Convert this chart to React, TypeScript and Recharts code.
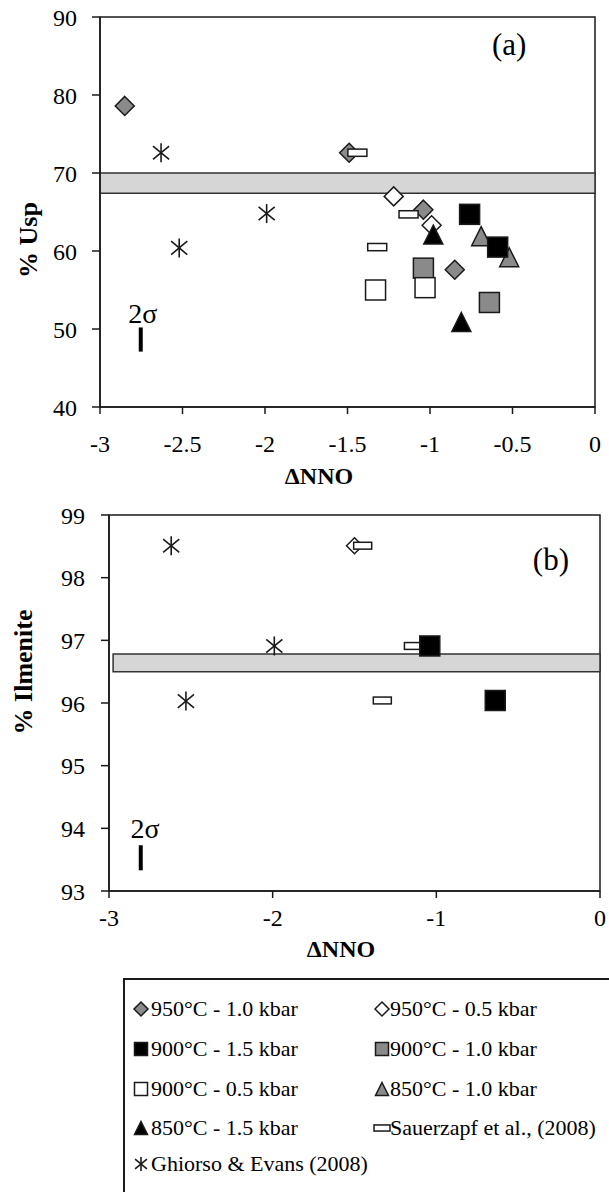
import React from "react";
import {
  Label,
  Legend,
  ReferenceArea,
  ReferenceDot,
  ReferenceLine,
  Scatter,
  ScatterChart,
  XAxis,
  YAxis,
} from "recharts";

const FONT = '"Liberation Serif", "Times New Roman", serif';
const INK = "#1a1a1a";
const GRAY = "#8a8a8a";
const BAND = "#d6d6d6";

type Pt = { x: number; y: number };

// panel (a): ΔNNO vs % Usp
const uspDiamondGray: Pt[] = [
  { x: -2.85, y: 78.6 },
  { x: -1.49, y: 72.6 },
  { x: -1.04, y: 65.3 },
  { x: -0.85, y: 57.6 },
];
const uspDiamondOpen: Pt[] = [
  { x: -1.22, y: 67.0 },
  { x: -0.99, y: 63.3 },
];
const uspSquareBlack: Pt[] = [
  { x: -0.76, y: 64.7 },
  { x: -0.59, y: 60.5 },
];
const uspSquareGray: Pt[] = [
  { x: -1.04, y: 57.8 },
  { x: -0.64, y: 53.4 },
];
const uspSquareOpen: Pt[] = [
  { x: -1.33, y: 55.0 },
  { x: -1.03, y: 55.3 },
];
const uspTriangleGray: Pt[] = [
  { x: -0.69, y: 61.9 },
  { x: -0.52, y: 59.2 },
];
const uspTriangleBlack: Pt[] = [
  { x: -0.98, y: 62.1 },
  { x: -0.81, y: 50.9 },
];
const uspSauerzapf: Pt[] = [
  { x: -1.44, y: 72.6 },
  { x: -1.13, y: 64.7 },
  { x: -1.32, y: 60.5 },
];
const uspGhiorso: Pt[] = [
  { x: -2.63, y: 72.6 },
  { x: -2.52, y: 60.4 },
  { x: -1.99, y: 64.8 },
];
const uspBand = [67.4, 70];
const uspTicksX = [-3, -2.5, -2, -1.5, -1, -0.5, 0];
const uspTicksY = [40, 50, 60, 70, 80, 90];

// panel (b): ΔNNO vs % Ilmenite
const ilmGhiorso: Pt[] = [
  { x: -2.62, y: 98.51 },
  { x: -2.53, y: 96.03 },
  { x: -1.99, y: 96.91 },
];
const ilmDiamond: Pt[] = [{ x: -1.5, y: 98.51 }];
const ilmSauerzapf: Pt[] = [
  { x: -1.45, y: 98.51 },
  { x: -1.14, y: 96.91 },
  { x: -1.33, y: 96.04 },
];
const ilmSquareBlack: Pt[] = [
  { x: -1.04, y: 96.91 },
  { x: -0.64, y: 96.04 },
];
const ilmBand = [96.5, 96.78];
const ilmTicksX = [-3, -2, -1, 0];
const ilmTicksY = [93, 94, 95, 96, 97, 98, 99];

type Kind = "diamond" | "square" | "triangle" | "bar" | "star";

function Marker({ cx, cy, kind, fill, s }: { cx: number; cy: number; kind: Kind; fill: string; s: number }) {
  const sw = 1.5;
  if (kind === "diamond") {
    return (
      <polygon
        points={`${cx},${cy - s} ${cx + s},${cy} ${cx},${cy + s} ${cx - s},${cy}`}
        fill={fill}
        stroke={INK}
        strokeWidth={sw}
      />
    );
  }
  if (kind === "square") {
    return <rect x={cx - s} y={cy - s} width={2 * s} height={2 * s} fill={fill} stroke={INK} strokeWidth={sw} />;
  }
  if (kind === "triangle") {
    return (
      <polygon
        points={`${cx},${cy - s} ${cx + s},${cy + s} ${cx - s},${cy + s}`}
        fill={fill}
        stroke={INK}
        strokeWidth={sw}
      />
    );
  }
  if (kind === "bar") {
    return (
      <rect x={cx - s} y={cy - s * 0.38} width={2 * s} height={s * 0.76} fill="#fff" stroke={INK} strokeWidth={sw} />
    );
  }
  const dx = s * 0.85;
  const dy = s * 0.7;
  return (
    <g stroke={INK} strokeWidth={1.6}>
      <line x1={cx} y1={cy - s} x2={cx} y2={cy + s} />
      <line x1={cx - dx} y1={cy - dy} x2={cx + dx} y2={cy + dy} />
      <line x1={cx - dx} y1={cy + dy} x2={cx + dx} y2={cy - dy} />
    </g>
  );
}

const dot = (kind: Kind, fill: string, s: number) => (p: any) =>
  <Marker cx={p.cx} cy={p.cy} kind={kind} fill={fill} s={s} />;

const tag = (text: string, size: number) => (p: any) => {
  const vb = p.viewBox;
  const cx = vb.x + vb.width / 2;
  const cy = vb.y + vb.height / 2;
  return (
    <text x={cx} y={cy} dy="0.35em" textAnchor="middle" fontFamily={FONT} fontSize={size} fill="#000">
      {text}
    </text>
  );
};

const axisTitle = (text: string, x: number, y: number, rotate: boolean) => () =>
  (
    <text
      x={x}
      y={y}
      textAnchor="middle"
      dominantBaseline="central"
      transform={rotate ? `rotate(-90 ${x} ${y})` : undefined}
      fontFamily={FONT}
      fontWeight="bold"
      fontSize={rotate ? 26 : 24}
      fill="#000"
    >
      {text}
    </text>
  );

const tickStyle = { fill: "#000", fontSize: 24, fontFamily: FONT };
const axisLine = { stroke: INK, strokeWidth: 1.5 };

const LEGEND_ROWS: { label: string; kind: Kind; fill: string }[][] = [
  [
    { label: "950°C - 1.0 kbar", kind: "diamond", fill: GRAY },
    { label: "950°C - 0.5 kbar", kind: "diamond", fill: "#fff" },
  ],
  [
    { label: "900°C - 1.5 kbar", kind: "square", fill: "#000" },
    { label: "900°C - 1.0 kbar", kind: "square", fill: GRAY },
  ],
  [
    { label: "900°C - 0.5 kbar", kind: "square", fill: "#fff" },
    { label: "850°C - 1.0 kbar", kind: "triangle", fill: GRAY },
  ],
  [
    { label: "850°C - 1.5 kbar", kind: "triangle", fill: "#000" },
    { label: "Sauerzapf et al., (2008)", kind: "bar", fill: "#fff" },
  ],
  [{ label: "Ghiorso & Evans (2008)", kind: "star", fill: "#000" }],
];
const ROW_Y = [29, 69, 109, 148, 184];
const COL_MARK = [16, 257];
const COL_TEXT = [26, 265];

function LegendBox() {
  return (
    <div
      style={{
        position: "relative",
        width: 484,
        height: 240,
        border: `2px solid ${INK}`,
        background: "#fff",
        fontFamily: FONT,
        fontSize: 22,
        color: "#000",
      }}
    >
      {LEGEND_ROWS.map((row, r) =>
        row.map((item, c) => {
          const s = item.kind === "bar" ? 8 : item.kind === "star" ? 7 : item.kind === "diamond" ? 7 : 6.5;
          return (
            <React.Fragment key={`${r}-${c}`}>
              <svg
                width={20}
                height={20}
                style={{ position: "absolute", left: COL_MARK[c] - 10, top: ROW_Y[r] - 10 }}
              >
                <Marker cx={10} cy={10} kind={item.kind} fill={item.fill} s={s} />
              </svg>
              <span
                style={{
                  position: "absolute",
                  left: COL_TEXT[c],
                  top: ROW_Y[r] - 12,
                  lineHeight: "24px",
                  whiteSpace: "nowrap",
                }}
              >
                {item.label}
              </span>
            </React.Fragment>
          );
        })
      )}
    </div>
  );
}

export default function App() {
  return (
    <div style={{ position: "absolute", left: 0, top: 0, width: 609, height: 1192, background: "#fff", overflow: "hidden" }}>
      <div style={{ position: "absolute", left: 0, top: 0 }}>
        <ScatterChart width={609} height={500} margin={{ top: 17, right: 14, bottom: 13, left: 0 }}>
          <XAxis
            type="number"
            dataKey="x"
            domain={[-3, 0]}
            ticks={uspTicksX}
            allowDataOverflow
            height={80}
            tick={tickStyle}
            tickSize={7}
            tickMargin={21}
            axisLine={axisLine}
            tickLine={axisLine}
          >
            <Label content={axisTitle("ΔNNO", 319, 476, false)} />
          </XAxis>
          <YAxis
            type="number"
            dataKey="y"
            domain={[40, 90]}
            ticks={uspTicksY}
            allowDataOverflow
            width={100}
            tick={tickStyle}
            tickSize={8}
            tickMargin={15}
            axisLine={axisLine}
            tickLine={axisLine}
          >
            <Label content={axisTitle("% Usp", 28, 240, true)} />
          </YAxis>
          <ReferenceArea x1={-3} x2={0} y1={40} y2={90} fill="none" stroke={INK} strokeWidth={1.5} />
          <ReferenceArea x1={-3} x2={0} y1={uspBand[0]} y2={uspBand[1]} fill={BAND} fillOpacity={1} stroke="#333" strokeWidth={1.5} />
          <ReferenceLine segment={[{ x: -2.753, y: 47.1 }, { x: -2.753, y: 50.2 }]} stroke="#000" strokeWidth={4} />
          <ReferenceDot x={-2.74} y={52} r={0} fill="none" stroke="none" label={tag("2σ", 28)} />
          <ReferenceDot x={-0.52} y={86.5} r={0} fill="none" stroke="none" label={tag("(a)", 31)} />
          <Scatter name="Ghiorso & Evans (2008)" data={uspGhiorso} shape={dot("star", "#000", 9.5)} isAnimationActive={false} />
          <Scatter name="950°C - 1.0 kbar" data={uspDiamondGray} shape={dot("diamond", GRAY, 9.5)} isAnimationActive={false} />
          <Scatter name="Sauerzapf et al., (2008)" data={uspSauerzapf} shape={dot("bar", "#fff", 9.5)} isAnimationActive={false} />
          <Scatter name="950°C - 0.5 kbar" data={uspDiamondOpen} shape={dot("diamond", "#fff", 9.5)} isAnimationActive={false} />
          <Scatter name="900°C - 1.0 kbar" data={uspSquareGray} shape={dot("square", GRAY, 10)} isAnimationActive={false} />
          <Scatter name="900°C - 0.5 kbar" data={uspSquareOpen} shape={dot("square", "#fff", 10)} isAnimationActive={false} />
          <Scatter name="850°C - 1.0 kbar" data={uspTriangleGray} shape={dot("triangle", GRAY, 9.5)} isAnimationActive={false} />
          <Scatter name="900°C - 1.5 kbar" data={uspSquareBlack} shape={dot("square", "#000", 10)} isAnimationActive={false} />
          <Scatter name="850°C - 1.5 kbar" data={uspTriangleBlack} shape={dot("triangle", "#000", 9.5)} isAnimationActive={false} />
        </ScatterChart>
      </div>
      <div style={{ position: "absolute", left: 0, top: 500 }}>
        <ScatterChart width={609} height={692} margin={{ top: 15, right: 9, bottom: 221, left: 0 }}>
          <XAxis
            type="number"
            dataKey="x"
            domain={[-3, 0]}
            ticks={ilmTicksX}
            allowDataOverflow
            height={80}
            tick={tickStyle}
            tickSize={7}
            tickMargin={11}
            axisLine={axisLine}
            tickLine={axisLine}
          >
            <Label content={axisTitle("ΔNNO", 341, 449, false)} />
          </XAxis>
          <YAxis
            type="number"
            dataKey="y"
            domain={[93, 99]}
            ticks={ilmTicksY}
            allowDataOverflow
            width={109}
            tick={tickStyle}
            tickSize={8}
            tickMargin={16}
            axisLine={axisLine}
            tickLine={axisLine}
          >
            <Label content={axisTitle("% Ilmenite", 23, 172, true)} />
          </YAxis>
          <ReferenceArea x1={-3} x2={0} y1={93} y2={99} fill="none" stroke={INK} strokeWidth={1.5} />
          <ReferenceArea x1={-2.975} x2={0} y1={ilmBand[0]} y2={ilmBand[1]} fill={BAND} fillOpacity={1} stroke="#333" strokeWidth={1.5} />
          <ReferenceLine segment={[{ x: -2.806, y: 93.33 }, { x: -2.806, y: 93.73 }]} stroke="#000" strokeWidth={4} />
          <ReferenceDot x={-2.78} y={94.01} r={0} fill="none" stroke="none" label={tag("2σ", 28)} />
          <ReferenceDot x={-0.3} y={98.3} r={0} fill="none" stroke="none" label={tag("(b)", 31)} />
          <Scatter name="Ghiorso & Evans (2008)" data={ilmGhiorso} shape={dot("star", "#000", 9.5)} isAnimationActive={false} />
          <Scatter name="950°C - 0.5 kbar" data={ilmDiamond} shape={dot("diamond", "#fff", 8)} isAnimationActive={false} />
          <Scatter name="Sauerzapf et al., (2008)" data={ilmSauerzapf} shape={dot("bar", "#fff", 9)} isAnimationActive={false} />
          <Scatter name="900°C - 1.5 kbar" data={ilmSquareBlack} shape={dot("square", "#000", 10)} isAnimationActive={false} />
          <Legend
            layout="horizontal"
            align="center"
            verticalAlign="middle"
            wrapperStyle={{ left: 123, top: 478, width: 490, height: 244 }}
            content={() => <LegendBox />}
          />
        </ScatterChart>
      </div>
    </div>
  );
}
